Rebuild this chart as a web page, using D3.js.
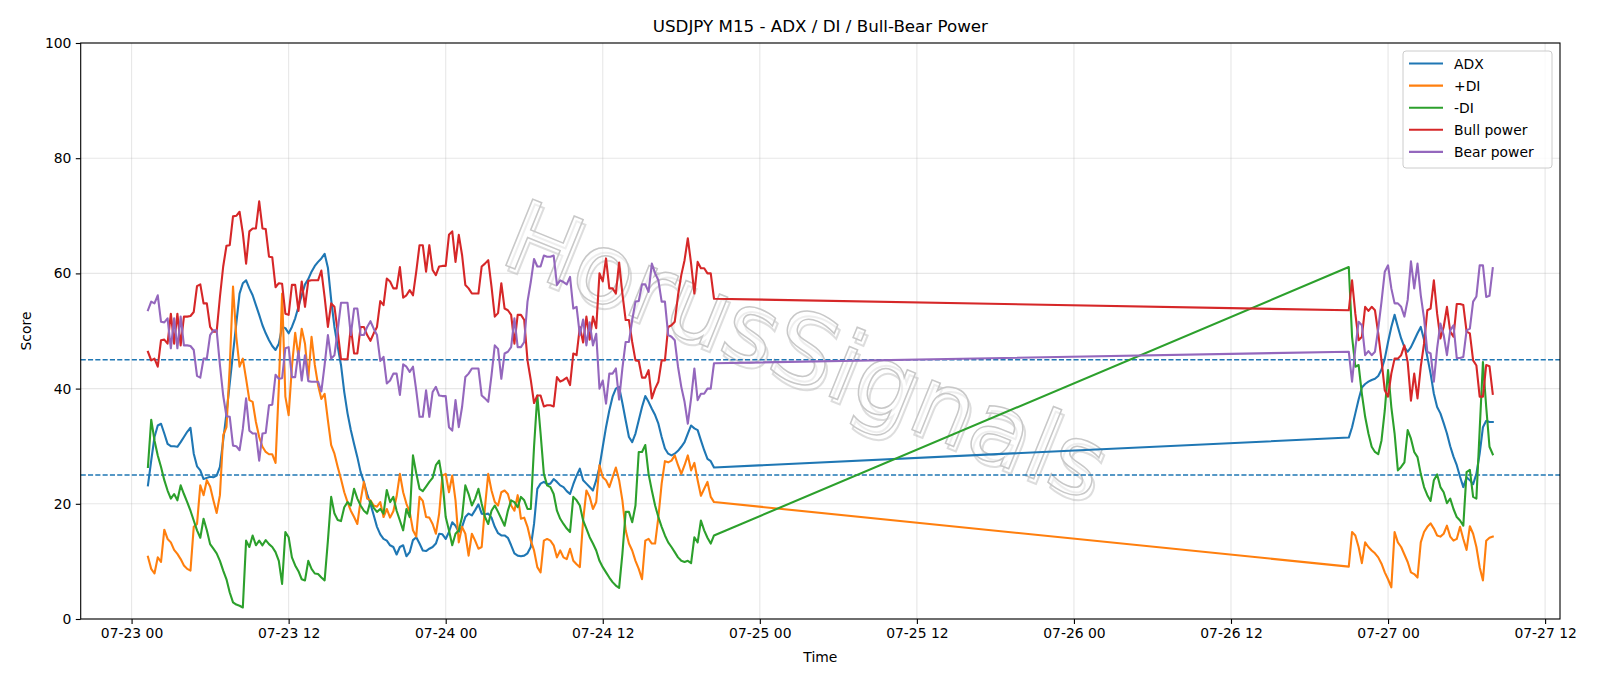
<!DOCTYPE html>
<html lang="en">
<head>
  <meta charset="UTF-8">
  <title>USDJPY M15 - ADX / DI / Bull-Bear Power</title>
  <script src="https://d3js.org/d3.v7.min.js"></script>
  <style>
    body { margin: 0; background: #fff; }
    svg { font-family: "DejaVu Sans", sans-serif; }
  </style>
</head>
<body>
<svg width="1600" height="686"></svg>
<script>
// two trading sessions of 15-minute bars (market closed over the weekend)
const sessionStarts = ["2020-07-23T01:15:00Z", "2020-07-26T21:00:00Z"];
const sessionBars = [174, 45];
const barMinutes = 15;

const adx = [
  23.2,27.5,31.6,33.6,33.9,32.2,30.4,30,30,29.9,30.7,31.6,32.5,33.2,28.7,26.5,25.8,24.3,24.5,24.7,
  24.6,24.9,26.4,31,35.7,40.9,46.1,51.3,56.5,58.3,58.8,57.4,56.2,54.5,52.8,51,49.6,48.4,47.4,46.7,
  47.8,50.7,50.5,49.6,50.7,52.2,54.2,56.2,58.1,59,60.3,61.3,62,62.6,63.4,61,55.4,50.7,47.3,44.1,
  39.4,35.7,32.8,30.4,28.1,25.5,23.8,21.7,20,18,16,14.7,13.9,13.6,12.8,12.5,11.2,12.5,12.8,10.9,
  11.6,13.7,14.2,13.1,11.9,11.8,12.2,12.5,13.1,14.8,14.7,13.9,15.1,16.8,16.2,15.1,16,17.7,18.3,18,
  18.9,19.9,18.3,18.2,18.3,17.6,16,14.9,14.5,14.5,14.1,12.8,11.4,11,10.9,11,11.4,12.5,16.5,22.6,
  23.5,23.8,23.4,23.5,24.3,23.8,23.2,22.9,22.2,21.7,23.4,24.9,26.1,24.1,23.5,22.9,22.3,24.1,26.4,29.9,
  33.3,36.2,38.6,40,40.3,37.5,34.5,31.6,30.7,32.2,34.5,36.8,38.7,37.7,36.5,35.4,33.9,31.6,29.6,28.7,
  28.4,28.7,29.2,29.9,30.7,32.2,33.6,33.1,32.8,31,29.3,27.8,27.4,26.3,
  31.5,33.3,35.7,38.1,40.2,40.8,41.2,41.5,41.7,42.2,43.3,45.2,48.1,50.7,52.8,50.7,48.7,47.2,46.4,47.2,
  48.4,49.6,50.7,48.5,45.5,42.6,39.1,36.8,35.7,34,32.2,30,28.2,26.7,24.7,22.9,24.6,24.1,23.4,25.2,
  28.7,33.3,34.4,34.2,34.2
];

const plusDi = [
  10.8,8.7,7.9,10.7,9.9,15.5,13.9,13.3,12,11.3,10.4,9.3,8.7,8.4,16,16.5,23.2,21.5,24.1,23,
  20.6,18.4,21.5,31.9,33.3,43.8,57.7,49,43.8,45.2,41.7,38,37.7,34.2,31.6,29.9,29,28.6,28.6,27.1,
  40.3,56.5,38.6,35.4,43.8,49.7,45.5,50.4,47.8,41.7,49,44.1,40.6,38.2,39.1,34.5,30.2,28.7,26.4,24.3,
  22,20.3,18.8,17.7,16.5,20.6,23.8,20.9,20.6,19.7,19.5,20.3,17.7,19.1,17.6,18.7,21.3,25.2,22,20,
  18.6,15.4,14.3,21.2,20.5,17.7,17.6,16.5,14.8,18.3,24.9,25.2,22,24.9,20.6,13.3,16,14.8,11,14.8,
  13.6,12.2,12.5,19.4,25.2,22.3,20.3,19.7,22,22.3,21.7,19.7,18.8,21.5,17.4,17.6,16,13.6,11.9,9,
  8.1,13.6,13.9,13.6,12.8,10.7,11.9,10.7,10.4,12.2,10.1,9.5,9,17.1,22.3,21.2,19.1,20.3,26.7,24.6,
  24.1,22.9,24.6,26.3,24.1,20.6,15.4,13.1,11.9,10.1,8.7,6.9,13.6,13.9,13.1,13.1,17.7,23.5,27.4,27.2,
  27.5,28.4,26.7,25.2,26.7,28.4,25.8,27.1,24.1,21.4,22.6,23.8,21.2,20.3,
  9.1,15.1,14.5,12.5,9.7,13.3,12.5,11.9,11.4,10.7,9.6,8.1,6.9,5.5,15.1,13.3,12.5,11.2,9.9,8.1,
  7.8,7.2,13.3,15.1,16,16.6,15.7,14.5,14.3,14.8,16.2,14.3,13.6,13.9,16,13.9,12,16.1,14.8,12.5,
  9,6.7,13.6,14.1,14.3
];

const minusDi = [
  26.4,34.6,31,28.4,26.4,24.1,22.3,20.9,21.7,20.6,23.2,21.7,20.3,18.8,17.1,15.4,14.1,17.4,15.4,13,
  12.2,11.4,10.1,8.4,6.9,4.6,2.9,2.5,2.3,2,13.6,12.5,14.5,12.8,13.6,12.8,13.7,13,12.5,11.6,
  10.1,6.1,15.1,14.2,10.7,9.3,8.3,6.9,6.7,10.1,8.7,7.9,7.8,7.2,6.7,13.6,21.2,18.3,17.2,17,
  19.4,20.3,19.7,22.6,20.9,19.7,18.8,18.3,20.5,19.3,18.6,19.1,18.3,22.4,20.3,21.2,18.8,17.1,15.4,19.1,
  17.7,28.4,25.3,22.6,22.2,23,23.8,24.5,26.7,27.5,24.1,17.7,15.4,12.8,14.8,15.4,17.7,23.2,21.7,19.7,
  20.9,22.6,20,17.7,16.5,18.8,19.7,18.6,17.4,16.2,18.8,20.6,20.3,19.4,21.2,20.6,19.1,19.1,29.9,38.8,
  32.2,25.2,23.2,22.9,21.7,18.8,17.4,16.5,15.7,15.1,21.2,20.6,19.7,17.1,15.7,14.2,13.1,11.9,10.1,9,
  8.1,7.2,6.4,5.8,5.4,11.3,18.6,18.6,16.8,19.7,29,29,30.2,25.2,22.3,19.7,17.7,16,14.5,13.3,
  12.5,11.6,10.7,10.1,9.9,10.1,9.7,14.2,13.3,17.1,15.4,14.1,13.1,14.5,
  61.1,49,43.8,44.1,39.1,35.1,32.2,29.9,29,28.6,31,36.2,43.2,36.8,32.2,25.8,26.4,27.2,32.8,31.3,
  29,28.1,25.2,22.9,21.5,20.5,24.1,25.1,22.9,22,20.1,20.9,19.1,17.7,17.1,16.2,25.5,25.9,21.2,20.9,
  32.8,44.6,36.8,29.9,28.6
];

const bullPower = [
  46.4,44.9,45.2,43.8,48.4,48.5,47.8,53,47.8,53,47.5,52.5,52.5,52.6,53.3,57.8,58.1,54.8,54.8,50.7,
  49.9,49.9,55.9,61.2,64.8,64.9,69.9,70,70.7,67,61.7,67.3,67.8,67.8,72.5,67.8,67.7,62.9,62.8,57.6,
  58.3,58.2,53,52.8,58,58,53.5,58.6,54.2,58.7,58.8,58.8,58.8,60.5,55.9,50.7,54.8,54.2,49.9,45.1,
  45.1,45.1,50.7,46.1,46.1,50.7,50.7,49.3,48.3,49.6,50.7,55.2,54.5,59.1,58.6,57.4,57.4,61.1,55.8,56.2,
  57.1,56.2,60.3,64.9,64.9,60.3,64.9,60.6,59.7,61.2,61.3,61.3,66.7,67.3,62,66.7,63.2,58,57.4,56.5,
  56.5,56.5,61.2,61.7,62.3,57.7,52.5,53.1,58.3,53.9,53.6,52.8,47.8,52.8,52.8,51.9,44.9,41.5,37.5,38.8,
  38.8,36.9,37.1,37.1,36.9,42,41.2,41.5,41.9,40.6,46.1,45.8,50.7,48,52.5,48.5,52.5,50.5,60,58.6,
  62.6,57.4,57.4,56.5,61.9,56.5,51.9,51.9,48.1,44.9,44.8,41.9,41.9,43.2,38.3,40,41.2,44.9,44.9,50.7,
  51,51.6,56.2,59.7,62.3,66.1,61.7,56.5,62,60.9,60.9,60,60,55.6,
  53.6,58.8,53,48.4,49,54.2,53.5,54.2,53.6,49.6,44.9,39.7,38.6,42.6,45.2,45.2,45.8,47.5,44.6,37.9,
  42.6,38.3,43.8,47.8,53.6,53.9,58.8,53,48.7,50.7,54.2,49.9,49,54.7,54.7,54.5,49.9,49.6,44.9,44,
  38.6,38.6,44.1,43.9,39.1
];

const bearPower = [
  53.6,55.1,54.8,56.2,51.6,51.5,52.2,47,52.2,47,52.5,47.5,47.5,47.4,46.7,42.2,41.9,45.2,45.2,49.3,
  50.1,50.1,44.1,38.8,35.2,35.1,30.1,30,29.3,33,38.3,32.7,32.2,32.2,27.5,32.2,32.3,37.1,37.2,42.4,
  41.7,41.8,47,47.2,42,42,46.5,41.4,45.8,41.3,41.2,41.2,41.2,39.5,44.1,49.3,45.2,45.8,50.1,54.9,
  54.9,54.9,49.3,53.9,53.9,49.3,49.3,50.7,51.7,50.4,49.3,44.8,45.5,40.9,41.4,42.6,42.6,38.9,44.2,43.8,
  42.9,43.8,39.7,35.1,35.1,39.7,35.1,39.4,40.3,38.8,38.7,38.7,33.3,32.7,38,33.3,36.8,42,42.6,43.5,
  43.5,43.5,38.8,38.3,37.7,42.3,47.5,46.9,41.7,46.1,46.4,47.2,52.2,47.2,47.2,48.1,55.1,58.5,62.5,61.2,
  61.2,63.1,62.9,62.9,63.1,58,58.8,58.5,58.1,59.4,53.9,54.2,49.3,52,47.5,51.5,47.5,49.5,40,41.4,
  37.4,42.6,42.6,43.5,38.1,43.5,48.1,48.1,51.9,55.1,55.2,58.1,58.1,56.8,61.7,60,58.8,55.1,55.1,49.3,
  49,48.4,43.8,40.3,37.7,33.9,38.3,43.5,38,39.1,39.1,40,40,44.4,
  46.4,41.2,47,51.6,51,45.8,46.5,45.8,46.4,50.4,55.1,60.3,61.4,57.4,54.8,54.8,54.2,52.5,55.4,62.1,
  57.4,61.7,56.2,52.2,46.4,46.1,41.2,47,51.3,49.3,45.8,50.1,51,45.3,45.3,45.5,50.1,50.4,55.1,56,
  61.4,61.4,55.9,56.1,60.9
];

const seriesNames = ["ADX", "+DI", "-DI", "Bull power", "Bear power"];
const seriesColors = ["#1f77b4", "#ff7f0e", "#2ca02c", "#d62728", "#9467bd"];
const seriesValues = [adx, plusDi, minusDi, bullPower, bearPower];
const yTicks = [0, 20, 40, 60, 80, 100];
const thresholds = [45, 25];

// timestamps of every bar
const times = [];
sessionStarts.forEach((s, k) => {
  const t0 = new Date(s);
  for (let i = 0; i < sessionBars[k]; i++) times.push(d3.utcMinute.offset(t0, i * barMinutes));
});

const svg = d3.select("svg");
const margin = { left: 80.7, right: 1560, top: 43, bottom: 619 };

// matplotlib-style 5% x margins
const tExt = d3.extent(times);
const pad = (tExt[1] - tExt[0]) * 0.05;
const x = d3.scaleUtc()
  .domain([new Date(+tExt[0] - pad), new Date(+tExt[1] + pad)])
  .range([margin.left, margin.right]);
const y = d3.scaleLinear().domain([0, 100]).range([margin.bottom, margin.top]);

const xTicks = d3.utcHour.every(12).range(x.domain()[0], x.domain()[1]);

// grid
const grid = svg.append("g");
grid.selectAll(".gx").data(xTicks).join("line")
  .attr("x1", d => x(d)).attr("x2", d => x(d))
  .attr("y1", margin.top).attr("y2", margin.bottom)
  .attr("stroke", "#b0b0b0").attr("stroke-opacity", 0.3).attr("stroke-width", 1.1);
grid.selectAll(".gy").data(yTicks).join("line")
  .attr("x1", margin.left).attr("x2", margin.right)
  .attr("y1", d => y(d)).attr("y2", d => y(d))
  .attr("stroke", "#b0b0b0").attr("stroke-opacity", 0.3).attr("stroke-width", 1.1);

// watermark
const wm = svg.append("g")
  .attr("transform", "translate(806,350) rotate(22)");
wm.append("text")
  .attr("x", 4).attr("y", 4)
  .attr("text-anchor", "middle").attr("dominant-baseline", "central")
  .style("font-size", "98px")
  .attr("fill", "none").attr("stroke", "#aaaaaa").attr("stroke-opacity", 0.4).attr("stroke-width", 2)
  .text("HorusSignals");
wm.append("text")
  .attr("text-anchor", "middle").attr("dominant-baseline", "central")
  .style("font-size", "98px")
  .attr("fill", "#ffffff").attr("fill-opacity", 0.5)
  .attr("stroke", "#c8c8c8").attr("stroke-width", 1.5)
  .text("HorusSignals");

// threshold lines
svg.selectAll(".thr").data(thresholds).join("line")
  .attr("x1", margin.left).attr("x2", margin.right)
  .attr("y1", d => y(d)).attr("y2", d => y(d))
  .attr("stroke", "#1f77b4").attr("stroke-width", 1.4)
  .attr("stroke-dasharray", "5.1,2.2");

// series lines
const line = d3.line().x((d, i) => x(times[i])).y(d => y(d));
svg.append("g").selectAll("path").data(seriesValues).join("path")
  .attr("d", d => line(d))
  .attr("fill", "none")
  .attr("stroke", (d, i) => seriesColors[i])
  .attr("stroke-width", 2.1)
  .attr("stroke-linejoin", "round")
  .attr("stroke-linecap", "square");

// axes
const xAxis = svg.append("g")
  .attr("transform", `translate(0,${margin.bottom})`)
  .call(d3.axisBottom(x).tickValues(xTicks).tickFormat(d3.utcFormat("%m-%d %H"))
    .tickSize(4.9).tickPadding(4.4));
const yAxis = svg.append("g")
  .attr("transform", `translate(${margin.left},0)`)
  .call(d3.axisLeft(y).tickValues(yTicks).tickSize(4.9).tickPadding(4.4));
[xAxis, yAxis].forEach(a => {
  a.select(".domain").remove();
  a.selectAll("line").attr("stroke", "#000").attr("stroke-width", 1.1);
  a.selectAll("text").style("font-size", "13.9px").style("font-family", "DejaVu Sans").attr("fill", "#000");
});

// frame
svg.append("rect")
  .attr("x", margin.left).attr("y", margin.top)
  .attr("width", margin.right - margin.left).attr("height", margin.bottom - margin.top)
  .attr("fill", "none").attr("stroke", "#000").attr("stroke-width", 1.1);

// titles
svg.append("text")
  .attr("x", (margin.left + margin.right) / 2).attr("y", 32)
  .attr("text-anchor", "middle").style("font-size", "16.7px")
  .text("USDJPY M15 - ADX / DI / Bull-Bear Power");
svg.append("text")
  .attr("x", (margin.left + margin.right) / 2).attr("y", 662)
  .attr("text-anchor", "middle").style("font-size", "13.9px")
  .text("Time");
svg.append("text")
  .attr("transform", `translate(26,${(margin.top + margin.bottom) / 2}) rotate(-90)`)
  .attr("text-anchor", "middle").attr("dominant-baseline", "central")
  .style("font-size", "13.9px")
  .text("Score");

// legend
const lg = svg.append("g").attr("transform", "translate(1403,51)");
lg.append("rect")
  .attr("width", 149).attr("height", 117).attr("rx", 3)
  .attr("fill", "#fff").attr("fill-opacity", 0.8)
  .attr("stroke", "#cccccc").attr("stroke-width", 1);
const items = lg.selectAll(".item").data(seriesNames).join("g")
  .attr("transform", (d, i) => `translate(0,${12.5 + i * 22.1})`);
items.append("line")
  .attr("x1", 6).attr("x2", 40)
  .attr("stroke", (d, i) => seriesColors[i]).attr("stroke-width", 2.1);
items.append("text")
  .attr("x", 51).attr("dominant-baseline", "central")
  .style("font-size", "13.9px")
  .text(d => d);
</script>
</body>
</html>
